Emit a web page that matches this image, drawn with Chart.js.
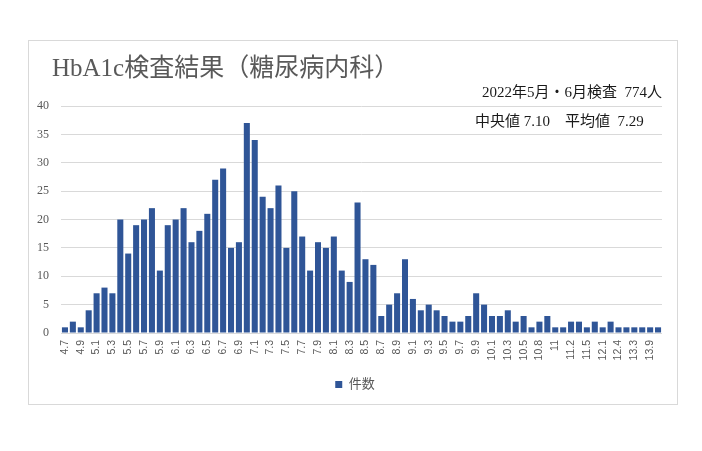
<!DOCTYPE html>
<html>
<head>
<meta charset="utf-8">
<script src="https://cdn.jsdelivr.net/npm/chart.js@4.4.1/dist/chart.umd.min.js"></script>
<style>
  html, body { margin: 0; padding: 0; background: #fff; }
  #wrap { position: relative; width: 702px; height: 451px; }
  #c { position: absolute; left: 0; top: 0; }
  .txt { position: absolute; white-space: pre; font-family: "Liberation Serif", "Noto Sans CJK JP", serif; }
  #title { left: 52px; top: 50px; font-size: 25px; color: #595959; line-height: 36px; }
  #note1 { right: 40px; top: 82px; font-size: 15px; color: #1a1a1a; line-height: 20px; }
  #note2 { left: 475px; top: 111px; font-size: 15px; color: #1a1a1a; line-height: 20px; }
</style>
</head>
<body>
<div id="wrap">
  <canvas id="c" width="702" height="451"></canvas>
  <div id="title" class="txt">HbA1c検査結果（糖尿病内科）</div>
  <div id="note1" class="txt">2022年5月・6月検査  774人</div>
  <div id="note2" class="txt">中央値 7.10　平均値  7.29</div>
</div>
<script>
const categories = [
  "4.7","4.8","4.9","5","5.1","5.2","5.3","5.4","5.5","5.6","5.7","5.8","5.9",
  "6","6.1","6.2","6.3","6.4","6.5","6.6","6.7","6.8","6.9",
  "7","7.1","7.2","7.3","7.4","7.5","7.6","7.7","7.8","7.9",
  "8","8.1","8.2","8.3","8.4","8.5","8.6","8.7","8.8","8.9",
  "9","9.1","9.2","9.3","9.4","9.5","9.6","9.7","9.8","9.9",
  "10","10.1","10.2","10.3","10.4","10.5","10.7","10.8","10.9",
  "11","11.1","11.2","11.4","11.5","11.8","12.1","12.3","12.4","12.9",
  "13.3","13.5","13.9","14.5"
];
const counts = [
  1,2,1,4,7,8,7,20,14,19,20,22,11,
  19,20,22,16,18,21,27,29,15,16,
  37,34,24,22,26,15,25,17,11,16,
  15,17,11,9,23,13,12,3,5,7,
  13,6,4,5,4,3,2,2,3,7,
  5,3,3,4,2,3,1,2,3,
  1,1,2,2,1,2,1,2,1,1,
  1,1,1,1
];
const yTicks = [0,5,10,15,20,25,30,35,40];
const seriesName = "件数";

const borderPlugin = {
  id: 'outerBorder',
  beforeDraw(chart) {
    const ctx = chart.ctx;
    ctx.save();
    ctx.fillStyle = '#ffffff';
    ctx.fillRect(0, 0, chart.width, chart.height);
    ctx.strokeStyle = '#d9d9d9';
    ctx.lineWidth = 1;
    ctx.strokeRect(28.5, 40.5, 649, 364);
    ctx.restore();
  },
  afterLayout(chart) {
    if (chart.legend) { chart.legend.left += 9; chart.legend.right += 9; }
  }
};

new Chart(document.getElementById('c'), {
  type: 'bar',
  data: {
    labels: categories,
    datasets: [{
      label: seriesName,
      data: counts,
      backgroundColor: '#2F5597',
      borderWidth: 0,
      barPercentage: 0.78,
      categoryPercentage: 0.98
    }]
  },
  plugins: [borderPlugin],
  options: {
    responsive: false,
    animation: false,
    devicePixelRatio: 1,
    layout: { padding: { left: 30, right: 40, top: 106, bottom: 50 } },
    plugins: {
      title: { display: false },
      tooltip: { enabled: false },
      legend: {
        display: true,
        position: 'bottom',
        labels: {
          boxWidth: 7, boxHeight: 7, padding: 10,
          color: '#595959',
          font: { family: '"Liberation Serif", "Noto Sans CJK JP"', size: 13 }
        }
      }
    },
    scales: {
      x: {
        grid: { display: false, drawTicks: false },
        border: { display: false },
        afterFit(scale) { scale.height = 35; },
        ticks: {
          autoSkip: false,
          maxRotation: 90,
          minRotation: 90,
          padding: 7,
          color: '#595959',
          font: { family: '"Liberation Sans", sans-serif', size: 10.5 },
          callback(value, index) { return index % 2 === 0 ? categories[index] : ''; }
        }
      },
      y: {
        min: 0,
        max: 40,
        afterFit(scale) { scale.width = 31; },
        afterBuildTicks(scale) { scale.ticks = yTicks.map(v => ({ value: v })); },
        grid: { color: '#d9d9d9', drawTicks: false, lineWidth: 1 },
        border: { display: false },
        ticks: {
          padding: 12,
          color: '#595959',
          font: { family: '"Liberation Serif", serif', size: 12 }
        }
      }
    }
  }
});
</script>
</body>
</html>
